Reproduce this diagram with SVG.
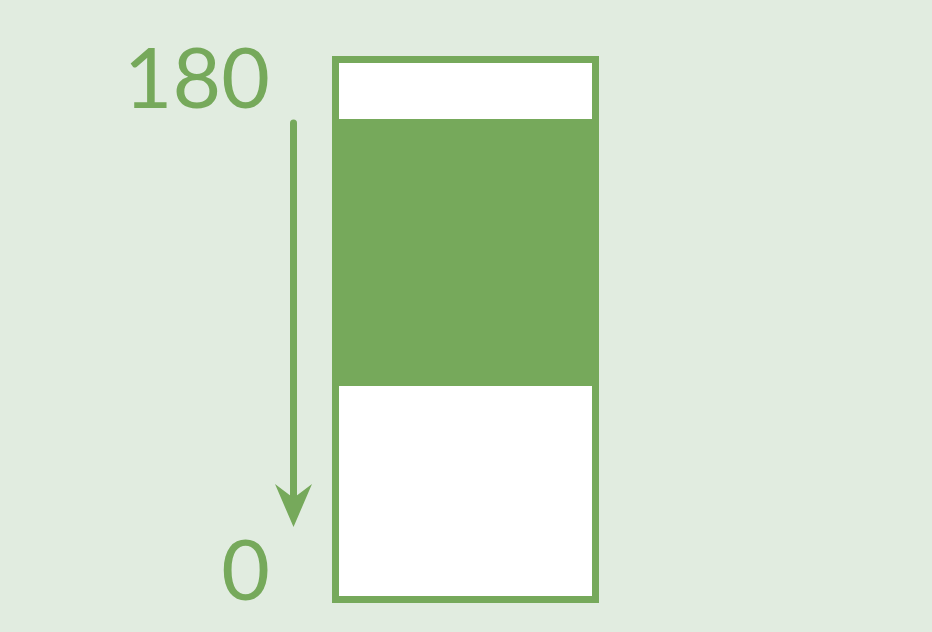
<svg xmlns="http://www.w3.org/2000/svg" width="932" height="632" viewBox="0 0 932 632">
<style>
.lbl{font-family:"Lato","Open Sans","Liberation Sans",sans-serif;font-size:84px;fill:#76A95B;text-anchor:end}
</style>
<rect width="932" height="632" fill="#E1ECE0"/>
<g id="bar">
<rect x="335.5" y="59.5" width="260" height="540" fill="#FFFFFF" stroke="#76A95B" stroke-width="7"/>
<rect x="335.5" y="119" width="260" height="267" fill="#76A95B"/>
</g>
<g id="labels">
<text class="lbl" x="270" y="108">180</text>
<text class="lbl" x="270" y="600">0</text>
</g>
<g id="connectors">
<line x1="293.5" y1="123" x2="293.5" y2="500" stroke="#76A95B" stroke-width="7" stroke-linecap="round"/>
<polygon points="275,484 293.5,498 312,484 293.5,527" fill="#76A95B"/>
</g>
</svg>
